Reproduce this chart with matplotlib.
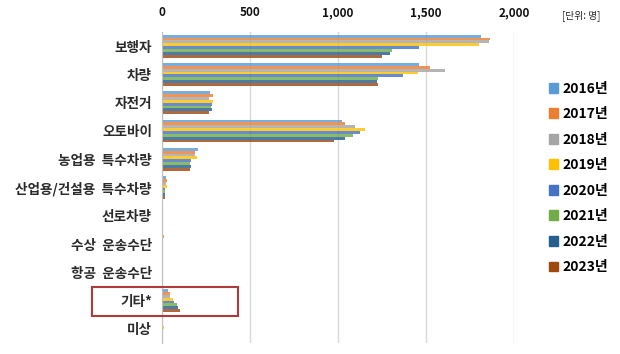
import matplotlib
matplotlib.use("Agg")
import matplotlib.pyplot as plt
import numpy as np
from matplotlib.patches import Rectangle

plt.rcParams['font.family'] = ['Noto Sans CJK KR', 'DejaVu Sans']

categories = ["보행자", "차량", "자전거", "오토바이", "농업용  특수차량", "산업용/건설용  특수차량",
              "선로차량", "수상  운송수단", "항공  운송수단", "기타*", "미상"]
years = ["2016년", "2017년", "2018년", "2019년", "2020년", "2021년", "2022년", "2023년"]

v2016 = [1809, 1459, 274, 1025, 204, 22, 2, 7, 2, 34, 8]
v2017 = [1862, 1522, 293, 1042, 189, 28, 3, 12, 1, 45, 10]
v2018 = [1857, 1605, 268, 1095, 188, 24, 4, 5, 0, 49, 9]
v2019 = [1800, 1455, 289, 1153, 200, 28, 2, 6, 1, 65, 12]
v2020 = [1459, 1367, 285, 1125, 168, 17, 1, 10, 3, 71, 6]
v2021 = [1308, 1229, 282, 1085, 161, 17, 3, 4, 0, 86, 7]
v2022 = [1295, 1219, 287, 1042, 164, 17, 2, 8, 1, 94, 5]
v2023 = [1251, 1225, 270, 979, 161, 16, 1, 7, 2, 104, 6]
series = [v2016, v2017, v2018, v2019, v2020, v2021, v2022, v2023]

xticks = [0, 500, 1000, 1500, 2000]
xticklabels = ["0", "500", "1,000", "1,500", "2,000"]

colors = ["#5B9BD5", "#ED7D31", "#A5A5A5", "#FFC000", "#4472C4", "#70AD47", "#255E91", "#9E480E"]

fig = plt.figure(figsize=(6.2, 3.54), dpi=100)
W, H = 620, 354
left, right, top, bottom = 161.7, 514.3, 32, 343
ax = fig.add_axes([left / W, 1 - bottom / H, (right - left) / W, (bottom - top) / H])

n = len(years)
group = 0.81
h = group / n
y = np.arange(len(categories))
for i, (vals, col, yr) in enumerate(zip(series, colors, years)):
    ax.barh(y + (i - (n - 1) / 2) * h, vals, height=h, color=col, alpha=0.82,
            label=yr, zorder=3, linewidth=0)

ax.set_xlim(0, 2000)
ax.set_ylim(len(categories) - 0.5, -0.5)
ax.set_yticks(y)
ax.set_yticklabels(categories, fontsize=9.8, fontweight='bold', color='#2a2a2a')
ax.set_xticks(xticks)
ax.set_xticklabels(xticklabels, fontsize=8.5, fontweight='bold', color='#111111')
ax.xaxis.tick_top()
ax.tick_params(axis='both', length=0)
ax.tick_params(axis='x', pad=9)
ax.tick_params(axis='y', pad=7)
ax.grid(axis='x', color='#d9d9d9', linewidth=1, zorder=0)
for s in ['top', 'right', 'bottom']:
    ax.spines[s].set_visible(False)
ax.spines['left'].set_color('#bfbfbf')
ax.spines['left'].set_zorder(4)

handles = [Rectangle((0, 0), 1, 1, color=c) for c in colors]
fig.legend(handles, years, loc='upper left', bbox_to_anchor=(543 / W, 1 - 76 / H),
           frameon=False, prop={'size': 10, 'weight': 'bold'}, handlelength=0.7,
           handleheight=0.7, handletextpad=0.3, labelspacing=0.83, borderaxespad=0)

fig.text(562 / W, 1 - 16 / H, "[단위: 명]", fontsize=7, ha='left', va='center', color='#222222')

fig.patches.append(Rectangle((92 / W, 1 - 316 / H), (238 - 92) / W, (316 - 287) / H,
                             transform=fig.transFigure, fill=False, edgecolor='#b03a3a',
                             linewidth=1.5, zorder=10))

fig.savefig("out.png", dpi=100, facecolor='white')
